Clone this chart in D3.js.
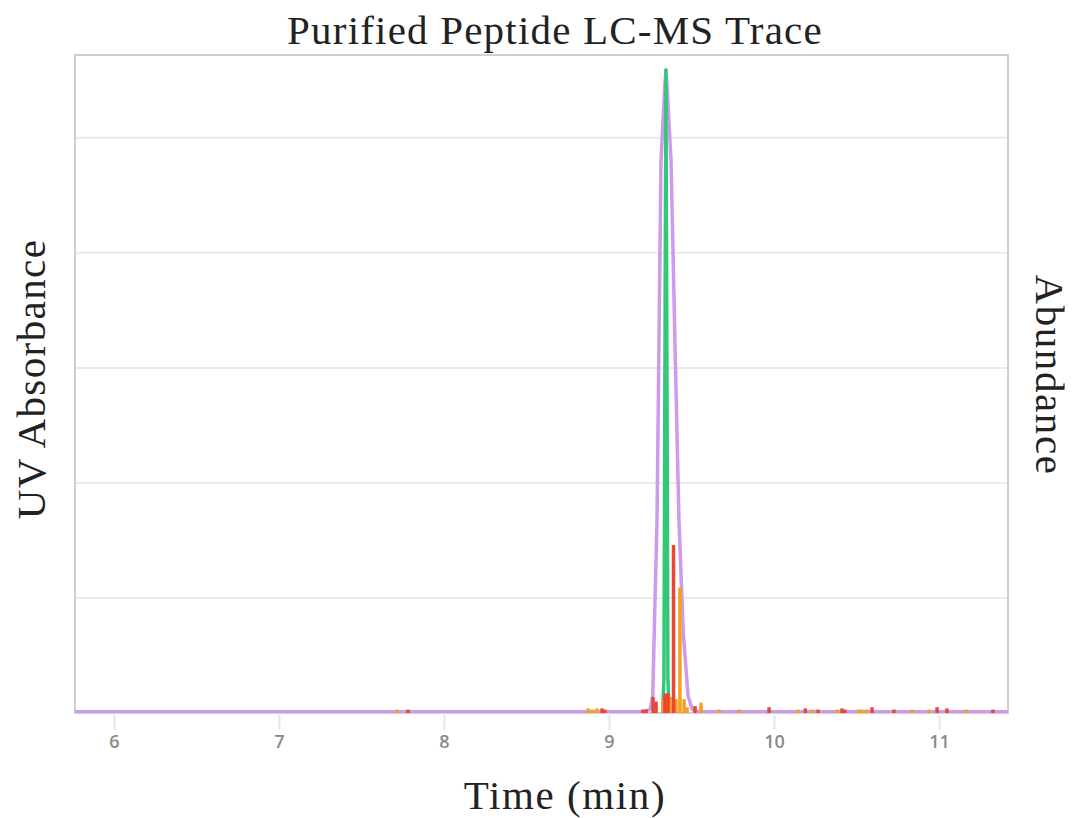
<!DOCTYPE html>
<html><head><meta charset="utf-8">
<script src="https://cdn.jsdelivr.net/npm/d3@7"></script>
<style>body{margin:0;background:#fff}svg{display:block}</style>
</head><body>
<script>
// UV absorbance trace (purple)
const uvTime  = [5.76, 9.20, 9.25, 9.265, 9.291, 9.315, 9.338, 9.345, 9.352, 9.376, 9.40, 9.424, 9.45, 9.479, 9.505, 9.55, 11.42];
const uvValue = [0.01, 0.01, 0.03, 0.15, 1.68, 4.8, 5.45, 5.59, 5.45, 4.8, 3.2, 1.68, 0.7, 0.15, 0.03, 0.01, 0.01];
// Extracted ion chromatogram (green)
const ticTime  = [9.325, 9.333, 9.338, 9.345, 9.352, 9.357, 9.365];
const ticValue = [0.0, 0.3, 2.6, 5.59, 2.6, 0.3, 0.0];
// MS abundance series (red)
const redTime  = [7.782, 8.958, 8.975, 9.205, 9.225, 9.267, 9.285, 9.339, 9.358, 9.391, 9.521, 9.97, 10.19, 10.267, 10.412, 10.43, 10.594, 10.727, 10.988, 11.048, 11.327];
const redValue = [0.03, 0.04, 0.03, 0.03, 0.03, 0.14, 0.10, 0.17, 0.17, 1.46, 0.06, 0.05, 0.04, 0.03, 0.04, 0.03, 0.05, 0.03, 0.05, 0.04, 0.03];
// MS abundance series (orange)
const orgTime  = [7.715, 8.873, 8.90, 8.927, 9.327, 9.352, 9.370, 9.406, 9.430, 9.455, 9.473, 9.558, 9.667, 9.79, 10.145, 10.23, 10.382, 10.51, 10.53, 10.56, 10.836, 10.939, 11.164];
const orgValue = [0.03, 0.04, 0.03, 0.04, 0.12, 0.16, 0.14, 0.12, 1.09, 0.12, 0.05, 0.09, 0.03, 0.03, 0.03, 0.03, 0.03, 0.03, 0.03, 0.03, 0.03, 0.03, 0.03];
const xTicks = [6, 7, 8, 9, 10, 11];
const yGrid = [1, 2, 3, 4, 5];

const W = 1073, H = 818;
const m = {l: 75, r: 65, t: 55, b: 105};
const svg = d3.select("body").append("svg").attr("width", W).attr("height", H);
const x = d3.scaleLinear().domain([5.764, 11.418]).range([m.l, W - m.r]);
const y = d3.scaleLinear().domain([0, 5.72]).range([H - m.b, m.t]);

// grid
svg.append("g").selectAll("line").data(yGrid).join("line")
  .attr("x1", m.l).attr("x2", W - m.r).attr("y1", d => y(d)).attr("y2", d => y(d))
  .attr("stroke", "#ebebeb").attr("stroke-width", 2);

// frame
svg.append("rect").attr("x", m.l).attr("y", m.t)
  .attr("width", W - m.l - m.r).attr("height", H - m.t - m.b)
  .attr("fill", "none").attr("stroke", "#cfcfcf").attr("stroke-width", 2);

// x axis
const xAxis = svg.append("g").attr("transform", `translate(0,${H - m.b + 2})`)
  .call(d3.axisBottom(x).tickValues(xTicks).tickFormat(d3.format("d")).tickSize(15).tickPadding(5));
xAxis.select(".domain").remove();
xAxis.selectAll(".tick line").attr("stroke", "#dfe7f5").attr("stroke-width", 2);
xAxis.selectAll(".tick text").attr("fill", "#8a8a8a").attr("font-family", "'Open Sans', sans-serif")
  .attr("font-size", 18).attr("font-weight", 600);

svg.append("defs").append("clipPath").attr("id", "c")
  .append("rect").attr("x", m.l).attr("y", m.t - 2).attr("width", W - m.l - m.r).attr("height", H - m.t - m.b + 2);
const plot = svg.append("g").attr("clip-path", "url(#c)");

const line = d3.line().x(d => x(d[0])).y(d => y(d[1]));

// UV trace
plot.append("path").datum(d3.zip(uvTime, uvValue)).attr("d", line)
  .attr("fill", "none").attr("stroke", "#cc9bee").attr("stroke-width", 3.5).attr("stroke-linejoin", "round");
// green
plot.append("path").datum(d3.zip(ticTime, ticValue)).attr("d", line)
  .attr("fill", "none").attr("stroke", "#33c877").attr("stroke-width", 3.5).attr("stroke-linejoin", "round");

// spikes
function spikes(ts, vs, color) {
  plot.append("g").selectAll("rect").data(d3.zip(ts, vs)).join("rect")
    .attr("x", d => x(d[0]) - 1.75).attr("width", 3.5)
    .attr("y", d => y(d[1])).attr("height", d => y(0) - y(d[1]) + 0.5)
    .attr("fill", color);
}
spikes(orgTime, orgValue, "#f5a11f");
spikes(redTime, redValue, "#ec4536");

// titles
const serif = "'Liberation Serif', serif";
svg.append("text").attr("x", 555).attr("y", 44).attr("text-anchor", "middle")
  .attr("font-family", serif).attr("font-size", 41).attr("letter-spacing", 1.2).attr("fill", "#222")
  .text("Purified Peptide LC-MS Trace");
svg.append("text").attr("x", 565).attr("y", 809).attr("text-anchor", "middle")
  .attr("font-family", serif).attr("font-size", 41).attr("letter-spacing", 1.6).attr("fill", "#222")
  .text("Time (min)");
svg.append("text").attr("transform", "translate(45,379) rotate(-90)").attr("text-anchor", "middle")
  .attr("font-family", serif).attr("font-size", 41).attr("letter-spacing", 1.4).attr("fill", "#222")
  .text("UV Absorbance");
svg.append("text").attr("transform", "translate(1036,375) rotate(90)").attr("text-anchor", "middle")
  .attr("font-family", serif).attr("font-size", 41).attr("letter-spacing", 1.6).attr("fill", "#222")
  .text("Abundance");
</script>
</body></html>
